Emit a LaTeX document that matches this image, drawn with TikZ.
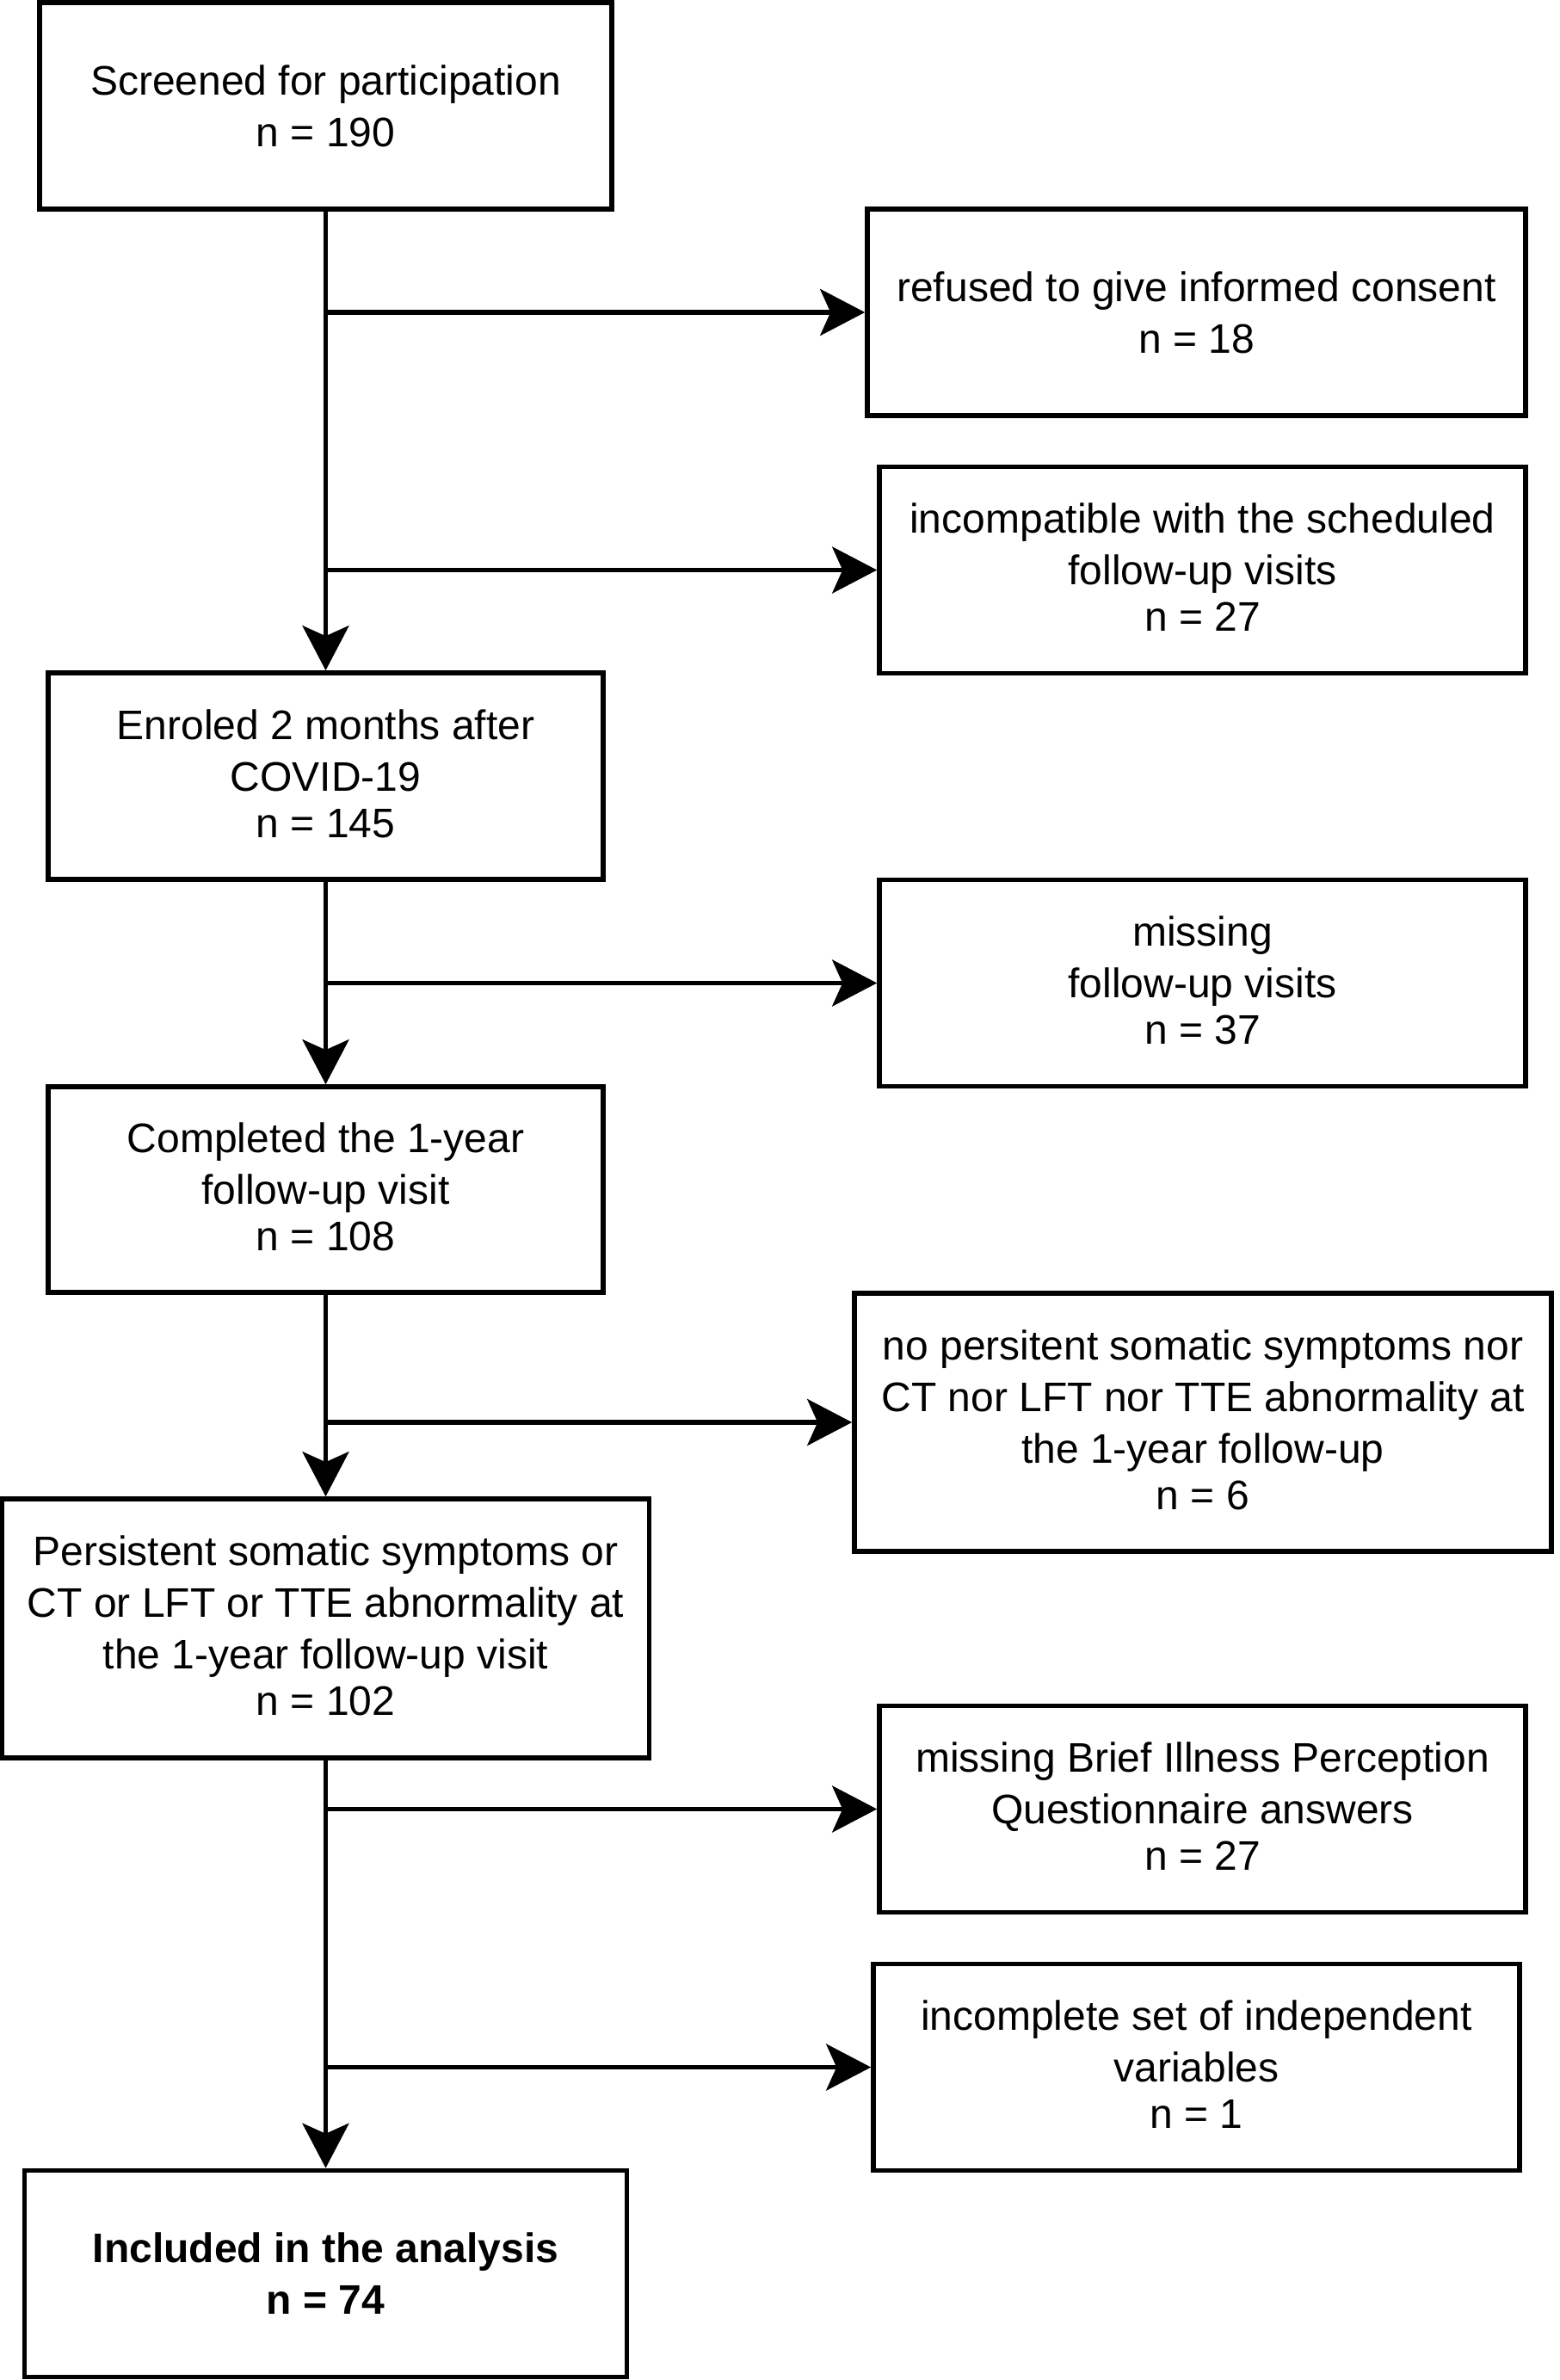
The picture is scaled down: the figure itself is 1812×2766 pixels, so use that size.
\documentclass[tikz,border=0pt]{standalone}
\usepackage{fontspec}
\setmainfont{Liberation Sans}
\usetikzlibrary{arrows.meta}
\newcommand{\lastline}[1]{\\[-3pt]#1\rule[-3pt]{0pt}{0pt}}
\begin{document}
\begin{tikzpicture}[x=0.5pt,y=-0.5pt,
  box/.style={draw=black, line width=2.8pt, fill=white, align=center, inner sep=0pt,
    font=\fontsize{24}{30}\selectfont},
  conn/.style={line width=2.8pt, -{Stealth[length=26pt,width=27pt,inset=6pt]}}]
\useasboundingbox (0,0) rectangle (1812,2766);
% left column
\node[box, minimum width=332.5pt, minimum height=120pt] (screen) at (378.5,123)
  {Screened for participation\\n = 190};
\node[box, minimum width=322.5pt, minimum height=120pt] (enrol) at (378.5,902)
  {Enroled 2 months after\\COVID-19\lastline{n = 145}};
\node[box, minimum width=322.5pt, minimum height=119.5pt] (completed) at (378.5,1382.5)
  {Completed the 1-year\\follow-up visit\lastline{n = 108}};
\node[box, minimum width=376pt, minimum height=150.5pt] (persistent) at (378.5,1892.5)
  {Persistent somatic symptoms or\\CT or LFT or TTE abnormality at\\the 1-year follow-up visit\lastline{n = 102}};
\node[box, minimum width=350pt, minimum height=120pt, font=\fontsize{24}{30}\selectfont\bfseries] (included) at (378.5,2642.5)
  {Included in the analysis\\n = 74};
% right column
\node[box, minimum width=382.5pt, minimum height=120pt] (refused) at (1390.5,363)
  {refused to give informed consent\\n = 18};
\node[box, minimum width=375.5pt, minimum height=120pt] (incompat) at (1397.5,662.5)
  {incompatible with the scheduled\\follow-up visits\lastline{n = 27}};
\node[box, minimum width=375.5pt, minimum height=120pt] (missing) at (1397.5,1142.5)
  {missing\\follow-up visits\lastline{n = 37}};
\node[box, minimum width=405pt, minimum height=150pt] (nopersist) at (1398,1653)
  {no persitent somatic symptoms nor\\CT nor LFT nor TTE abnormality at\\the 1-year follow-up\lastline{n = 6}};
\node[box, minimum width=375.5pt, minimum height=120pt] (bipq) at (1397.5,2102.5)
  {missing Brief Illness Perception\\Questionnaire answers\lastline{n = 27}};
\node[box, minimum width=375.5pt, minimum height=120pt] (incomplete) at (1390.5,2402.5)
  {incomplete set of independent\\variables\lastline{n = 1}};
% main flow
\draw[conn] (screen.south) -- (enrol.north);
\draw[conn] (enrol.south) -- (completed.north);
\draw[conn] (completed.south) -- (persistent.north);
\draw[conn] (persistent.south) -- (included.north);
% branches
\draw[conn] (screen.south |- refused.west) -- (refused.west);
\draw[conn] (screen.south |- incompat.west) -- (incompat.west);
\draw[conn] (enrol.south |- missing.west) -- (missing.west);
\draw[conn] (completed.south |- nopersist.west) -- (nopersist.west);
\draw[conn] (persistent.south |- bipq.west) -- (bipq.west);
\draw[conn] (persistent.south |- incomplete.west) -- (incomplete.west);
\end{tikzpicture}
\end{document}
